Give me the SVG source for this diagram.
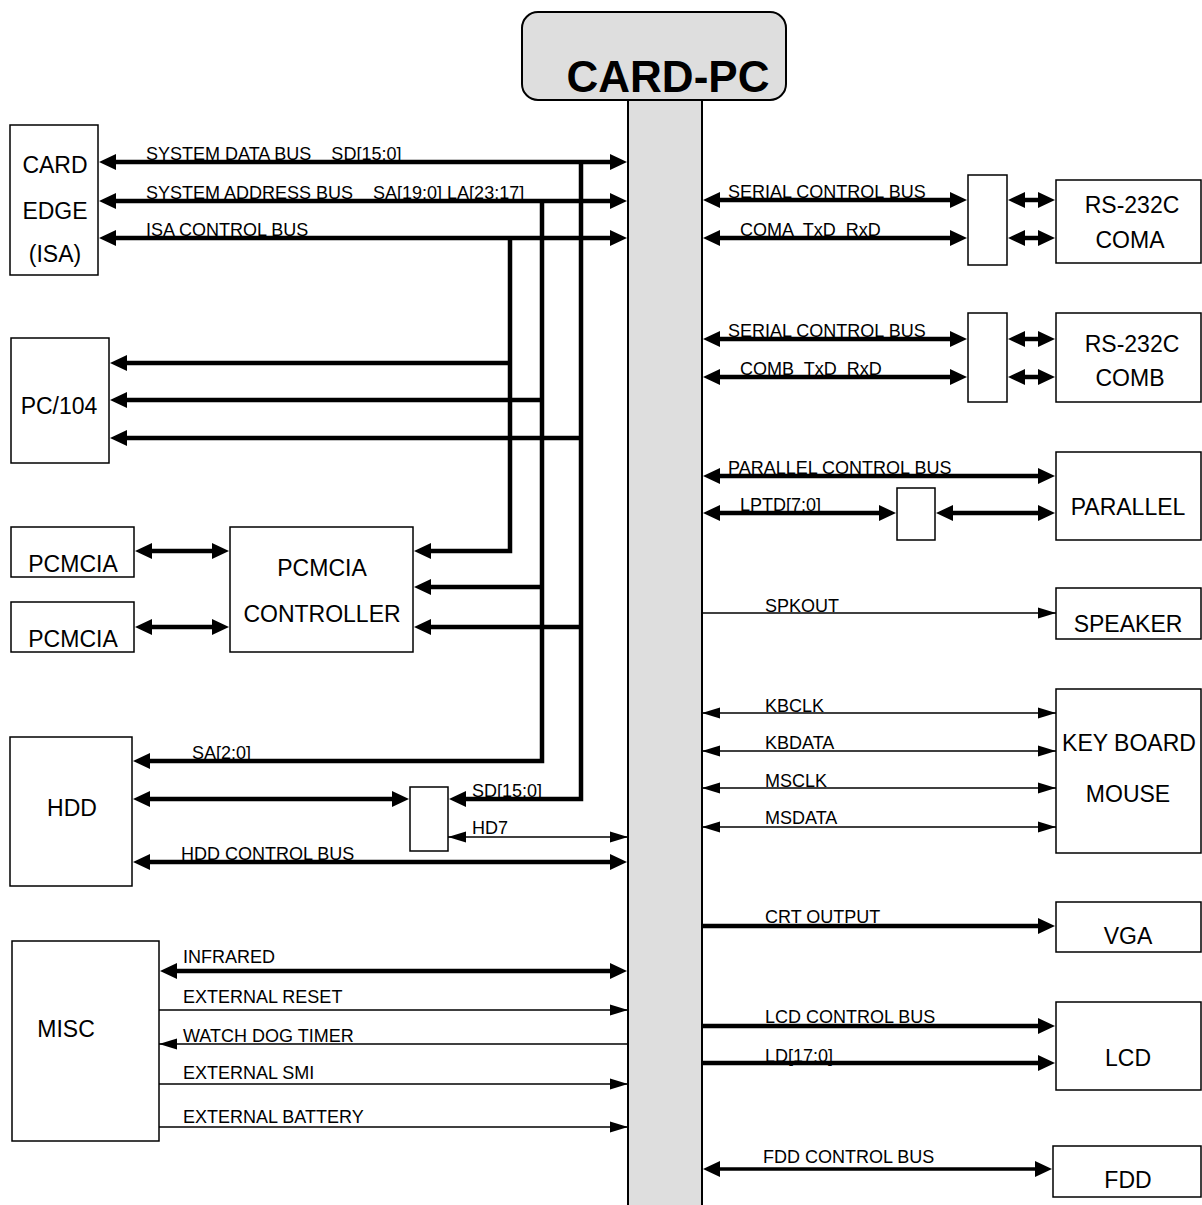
<svg xmlns="http://www.w3.org/2000/svg" width="1202" height="1205" viewBox="0 0 1202 1205">
<style>
.box{fill:#fff;stroke:#000;stroke-width:1.5}
.gray{fill:#dedede;stroke:#000;stroke-width:2}
.nl{font-family:"Liberation Sans",Arial,sans-serif;font-size:23px;text-anchor:middle;fill:#000}
.ll{font-family:"Liberation Sans",Arial,sans-serif;font-size:18px;fill:#000}
.title{font-family:"Liberation Sans",Arial,sans-serif;font-size:44px;font-weight:bold;text-anchor:middle;fill:#000}
.tk{fill:none;stroke:#000;stroke-width:4.5;marker-end:url(#ah)}
.tk.d{marker-start:url(#ah)}
.md{fill:none;stroke:#000;stroke-width:3.5;marker-start:url(#ah);marker-end:url(#ah)}
.tn{fill:none;stroke:#000;stroke-width:1.5;marker-end:url(#at)}
.tn.d{marker-start:url(#at)}
</style>
<defs>
<marker id="ah" markerUnits="userSpaceOnUse" markerWidth="17" markerHeight="16" refX="9" refY="8" orient="auto-start-reverse" overflow="visible"><path d="M0,0 L17,8 L0,16 z" fill="#000"/></marker>
<marker id="at" markerUnits="userSpaceOnUse" markerWidth="18" markerHeight="11" refX="18" refY="5.5" orient="auto-start-reverse" overflow="visible"><path d="M0,0 L18,5.5 L0,11 z" fill="#000"/></marker>
</defs>
<rect width="1202" height="1205" fill="#fff"/>

<g id="card-pc">
<rect class="gray" x="522" y="12" width="264" height="88" rx="16"/>
<rect class="gray" x="628" y="100" width="74" height="1110"/>
<text class="title" x="668" y="92">CARD-PC</text>
</g>

<g id="card-edge"><rect class="box" x="10" y="125" width="88" height="150"/>
<text class="nl" x="55" y="173">CARD</text><text class="nl" x="55" y="219">EDGE</text><text class="nl" x="55" y="262">(ISA)</text></g>
<g id="pc104"><rect class="box" x="11" y="338" width="98" height="125"/><text class="nl" x="59" y="414">PC/104</text></g>
<g id="pcmcia1"><rect class="box" x="11" y="527" width="123" height="50"/><text class="nl" x="73" y="572">PCMCIA</text></g>
<g id="pcmcia2"><rect class="box" x="11" y="602" width="123" height="50"/><text class="nl" x="73" y="647">PCMCIA</text></g>
<g id="pcmcia-ctrl"><rect class="box" x="230" y="527" width="183" height="125"/><text class="nl" x="322" y="576">PCMCIA</text><text class="nl" x="322" y="622">CONTROLLER</text></g>
<g id="hdd"><rect class="box" x="10" y="737" width="122" height="149"/><text class="nl" x="72" y="816">HDD</text></g>
<g id="hdd-buf"><rect class="box" x="410" y="787" width="38" height="64"/></g>
<g id="misc"><rect class="box" x="12" y="941" width="147" height="200"/><text class="nl" x="66" y="1037">MISC</text></g>

<g id="coma-buf"><rect class="box" x="968" y="175" width="39" height="90"/></g>
<g id="coma"><rect class="box" x="1056" y="180" width="145" height="83"/><text class="nl" x="1132" y="213">RS-232C</text><text class="nl" x="1130" y="248">COMA</text></g>
<g id="comb-buf"><rect class="box" x="968" y="313" width="39" height="89"/></g>
<g id="comb"><rect class="box" x="1056" y="313" width="145" height="89"/><text class="nl" x="1132" y="352">RS-232C</text><text class="nl" x="1130" y="386">COMB</text></g>
<g id="lpt-buf"><rect class="box" x="897" y="488" width="38" height="52"/></g>
<g id="parallel"><rect class="box" x="1056" y="452" width="145" height="88"/><text class="nl" x="1128" y="515">PARALLEL</text></g>
<g id="speaker"><rect class="box" x="1056" y="588" width="145" height="51"/><text class="nl" x="1128" y="632">SPEAKER</text></g>
<g id="kbms"><rect class="box" x="1056" y="689" width="145" height="164"/><text class="nl" x="1129" y="751">KEY BOARD</text><text class="nl" x="1128" y="802">MOUSE</text></g>
<g id="vga"><rect class="box" x="1056" y="902" width="145" height="50"/><text class="nl" x="1128" y="944">VGA</text></g>
<g id="lcd"><rect class="box" x="1056" y="1002" width="145" height="88"/><text class="nl" x="1128" y="1066">LCD</text></g>
<g id="fdd"><rect class="box" x="1053" y="1146" width="148" height="51"/><text class="nl" x="1128" y="1188">FDD</text></g>

<g id="connectors">
<path class="tk d" d="M107,162 H619"/>
<path class="tk d" d="M107,201 H619"/>
<path class="tk d" d="M107,238 H619"/>
<path class="tk" d="M510,238 V551 H422"/>
<path class="tk" d="M542,201 V761 H141"/>
<path class="tk" d="M581,162 V799 H457"/>
<path class="tk" d="M510,363 H118"/>
<path class="tk" d="M542,400 H118"/>
<path class="tk" d="M581,438 H118"/>
<path class="tk" d="M542,587 H422"/>
<path class="tk" d="M581,627 H422"/>
<path class="tk d" d="M143,551 H221"/>
<path class="tk d" d="M143,627 H221"/>
<path class="tk d" d="M141,799 H401"/>
<path class="tn d" d="M448,837 H628"/>
<path class="tk d" d="M141,862 H619"/>
<path class="tk d" d="M168,971 H619"/>
<path class="tn" d="M159,1010 H628"/>
<path class="tn" d="M628,1044 H159"/>
<path class="tn" d="M159,1084 H628"/>
<path class="tn" d="M159,1127 H628"/>

<path class="tk d" d="M711,200 H959"/>
<path class="tk d" d="M711,238 H959"/>
<path class="tk d" d="M1016,200 H1047"/>
<path class="tk d" d="M1016,238 H1047"/>
<path class="tk d" d="M711,339 H959"/>
<path class="tk d" d="M711,377 H959"/>
<path class="tk d" d="M1016,339 H1047"/>
<path class="tk d" d="M1016,377 H1047"/>
<path class="tk d" d="M711,476 H1047"/>
<path class="tk d" d="M711,513 H888"/>
<path class="tk d" d="M944,513 H1047"/>
<path class="tn" d="M702,613 H1056"/>
<path class="tn d" d="M702,713 H1056"/>
<path class="tn d" d="M702,751 H1056"/>
<path class="tn d" d="M702,788 H1056"/>
<path class="tn d" d="M702,827 H1056"/>
<path class="tk" d="M702,926 H1047"/>
<path class="tk" d="M702,1026 H1047"/>
<path class="tk" d="M702,1063 H1047"/>
<path class="md" d="M711,1169 H1044"/>
</g>

<g id="labels">
<text class="ll" x="146" y="160" xml:space="preserve">SYSTEM DATA BUS    SD[15:0]</text>
<text class="ll" x="146" y="199" xml:space="preserve">SYSTEM ADDRESS BUS    SA[19:0] LA[23:17]</text>
<text class="ll" x="146" y="236">ISA CONTROL BUS</text>
<text class="ll" x="192" y="759">SA[2:0]</text>
<text class="ll" x="472" y="797">SD[15:0]</text>
<text class="ll" x="472" y="834">HD7</text>
<text class="ll" x="181" y="860">HDD CONTROL BUS</text>
<text class="ll" x="183" y="963">INFRARED</text>
<text class="ll" x="183" y="1003">EXTERNAL RESET</text>
<text class="ll" x="183" y="1042">WATCH DOG TIMER</text>
<text class="ll" x="183" y="1079">EXTERNAL SMI</text>
<text class="ll" x="183" y="1123">EXTERNAL BATTERY</text>
<text class="ll" x="728" y="198">SERIAL CONTROL BUS</text>
<text class="ll" x="740" y="236" xml:space="preserve">COMA  TxD  RxD</text>
<text class="ll" x="728" y="337">SERIAL CONTROL BUS</text>
<text class="ll" x="740" y="375" xml:space="preserve">COMB  TxD  RxD</text>
<text class="ll" x="728" y="474">PARALLEL CONTROL BUS</text>
<text class="ll" x="740" y="511">LPTD[7:0]</text>
<text class="ll" x="765" y="612">SPKOUT</text>
<text class="ll" x="765" y="712">KBCLK</text>
<text class="ll" x="765" y="749">KBDATA</text>
<text class="ll" x="765" y="787">MSCLK</text>
<text class="ll" x="765" y="824">MSDATA</text>
<text class="ll" x="765" y="923">CRT OUTPUT</text>
<text class="ll" x="765" y="1023">LCD CONTROL BUS</text>
<text class="ll" x="765" y="1062">LD[17:0]</text>
<text class="ll" x="763" y="1163">FDD CONTROL BUS</text>
</g>
</svg>
